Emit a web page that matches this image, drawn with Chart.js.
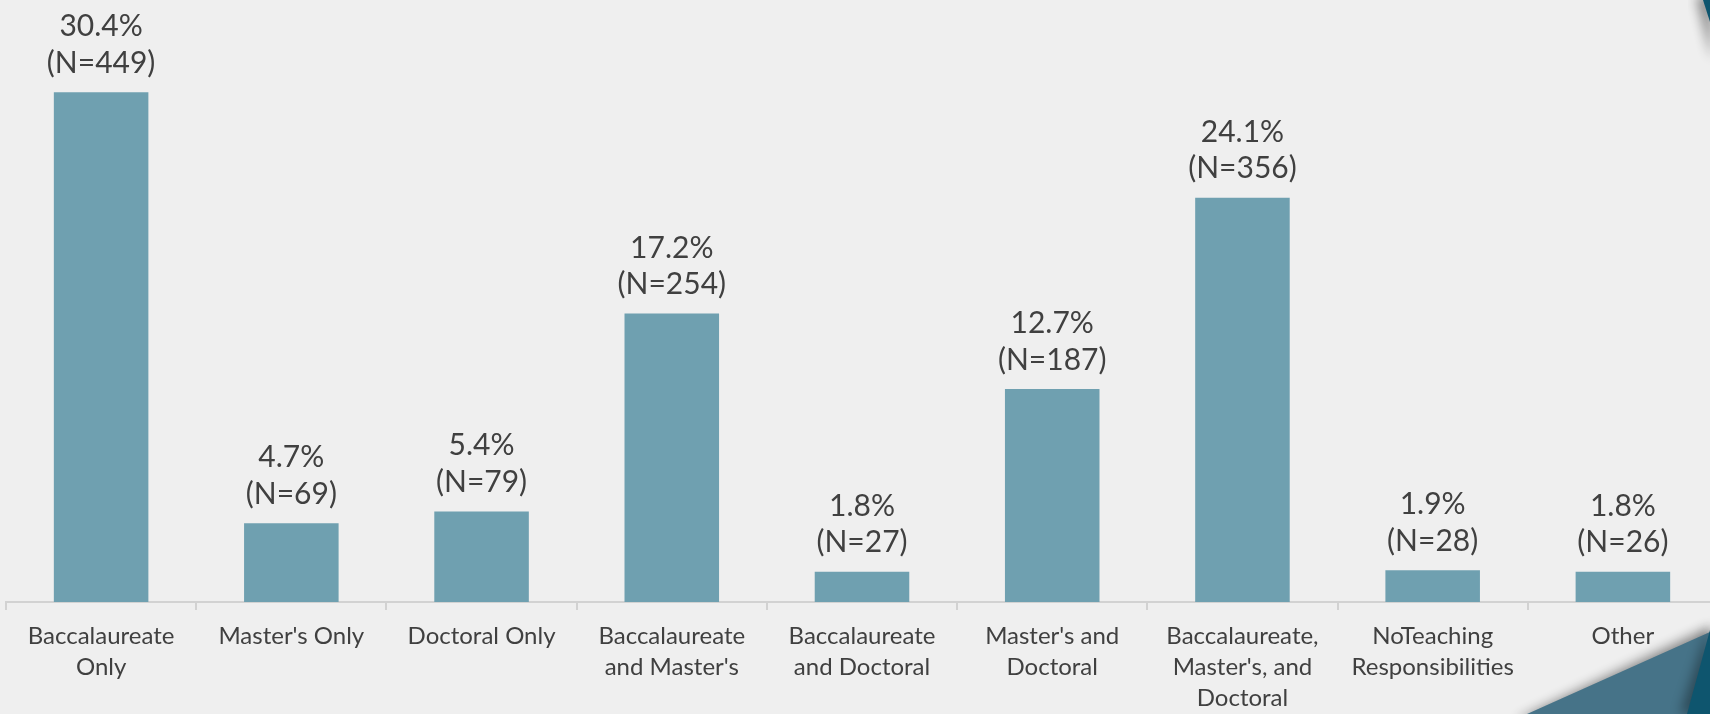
<!DOCTYPE html>
<html>
<head>
<meta charset="utf-8">
<script src="https://cdn.jsdelivr.net/npm/chart.js@4"></script>
<style>
    html, body { margin: 0; padding: 0; background: #efefef; overflow: hidden; }
    #wrap { position: relative; width: 1710px; height: 714px; overflow: hidden; }
    #teachChart { position: absolute; left: 0; top: 0; }
    #corner { position: absolute; left: 0; top: 0; pointer-events: none; }
</style>
</head>
<body>
<div id="wrap">
    <canvas id="teachChart" width="1722" height="714"></canvas>
    <svg id="corner" width="1710" height="714" viewBox="0 0 1710 714">
        <defs>
            <filter id="soft" x="-50%" y="-50%" width="200%" height="200%">
                <feGaussianBlur stdDeviation="6"/>
            </filter>
        </defs>
        <!-- theme decoration, bottom right -->
        <polygon points="1516,720 1712,626 1712,720" fill="#000" opacity="0.45" filter="url(#soft)"/>
        <polygon points="1527,714 1710,632 1710,714" fill="#467388"/>
        <polygon points="1680,714 1708,628 1712,714" fill="#000" opacity="0.35" filter="url(#soft)"/>
        <polygon points="1687,714 1710,630 1710,714" fill="#0e556e"/>
        <!-- top right sliver -->
        <polygon points="1696,-4 1712,-4 1712,60" fill="#000" opacity="0.45" filter="url(#soft)"/>
        <polygon points="1703,0 1710,0 1710,22" fill="#0e556e"/>
    </svg>
</div>
<script>
// categories (multi-line tick labels)
const categories = [
    ["Baccalaureate", "Only"],
    ["Master's Only"],
    ["Doctoral Only"],
    ["Baccalaureate", "and Master's"],
    ["Baccalaureate", "and Doctoral"],
    ["Master's and", "Doctoral"],
    ["Baccalaureate,", "Master's, and", "Doctoral"],
    ["NoTeaching", "Responsibilities"],
    ["Other"]
];

// percent of respondents
const percents = [30.4, 4.7, 5.4, 17.2, 1.8, 12.7, 24.1, 1.9, 1.8];

// number of respondents
const counts = [449, 69, 79, 254, 27, 187, 356, 28, 26];

const textColor = '#404040';

// draws "xx.x%" and "(N=nnn)" above each bar
const barLabels = {
    id: 'barLabels',
    afterDatasetsDraw(chart) {
        const ctx = chart.ctx;
        const meta = chart.getDatasetMeta(0);
        ctx.save();
        ctx.font = '30px Lato';
        ctx.fillStyle = textColor;
        ctx.textAlign = 'center';
        ctx.textBaseline = 'alphabetic';
        meta.data.forEach((bar, i) => {
            ctx.fillText(percents[i].toFixed(1) + '%', bar.x, bar.y - 56);
            ctx.fillText('(N=' + counts[i] + ')', bar.x, bar.y - 19.5);
        });
        ctx.restore();
    }
};

function drawChart() {
    const ctx = document.getElementById('teachChart').getContext('2d');
    new Chart(ctx, {
        type: 'bar',
        data: {
            labels: categories,
            datasets: [{
                data: percents,
                backgroundColor: '#6fa0b0',
                borderWidth: 0,
                categoryPercentage: 1,
                barPercentage: 0.497
            }]
        },
        options: {
            responsive: false,
            animation: false,
            layout: { padding: { top: 15, left: 6, right: 4, bottom: 0 } },
            plugins: {
                legend: { display: false },
                tooltip: { enabled: false }
            },
            scales: {
                x: {
                    grid: {
                        drawOnChartArea: false,
                        drawTicks: true,
                        tickLength: 8,
                        color: '#d2d2d2',
                        lineWidth: 2
                    },
                    border: { color: '#d2d2d2', width: 2 },
                    ticks: {
                        color: textColor,
                        padding: 11,
                        maxRotation: 0,
                        autoSkip: false,
                        font: { family: 'Lato', size: 24, lineHeight: 1.29 }
                    },
                    afterFit: (scale) => { scale.height = 112; }
                },
                y: {
                    display: false,
                    min: 0,
                    max: 35
                }
            }
        },
        plugins: [barLabels]
    });
}

drawChart();
</script>
</body>
</html>
